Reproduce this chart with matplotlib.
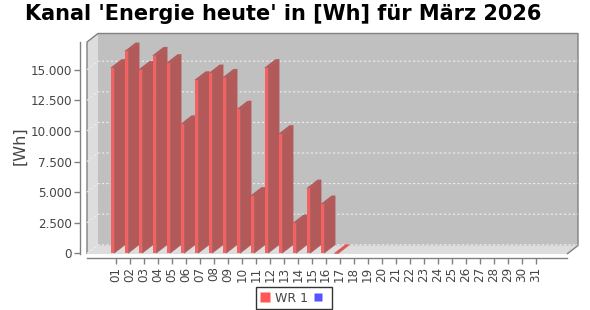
import matplotlib
matplotlib.use("Agg")
import matplotlib.pyplot as plt
from matplotlib.patches import Polygon
from matplotlib.lines import Line2D

# Daily energy yield of WR 1 in March 2026 (Wh); days 18-31 have no data yet
days = list(range(1, 32))
day_labels = ["%02d" % d for d in days]
wr1_days = list(range(1, 18))
wr1_values = [15150, 16500, 15000, 16150, 15550, 10550, 14150, 14700, 14350,
              11750, 4700, 15150, 9750, 2450, 5300, 4000, 0]
y_ticks = [0, 2500, 5000, 7500, 10000, 12500, 15000]
y_tick_labels = ["0", "2.500", "5.000", "7.500", "10.000", "12.500", "15.000"]

title = "Kanal 'Energie heute' in [Wh] für März 2026"

# colours
back_wall = "#C0C0C0"
side_wall = "#DDDDDD"
outline = "#808080"
grid_col = "#EEEEEE"
bar_front = "#F26262"
bar_side = "#B25A5A"
text_col = "#444444"

W, H = 590, 310
fig = plt.figure(figsize=(W / 100, H / 100), dpi=100)
fig.patch.set_facecolor("white")

# front plane of the 3D plot (pixels from top-left)
left, right, top, bottom = 87, 567, 42, 254
ax = fig.add_axes([left / W, (H - bottom) / H, (right - left) / W, (bottom - top) / H])
ax.set_facecolor("none")

xmin, xmax = -1.05, 33.24
ymin, ymax = -57, 17263
ax.set_xlim(xmin, xmax)
ax.set_ylim(ymin, ymax)

# 3D depth offset, converted from pixels to data units
depth_px_x, depth_px_y = 11, 8.5
dx = depth_px_x * (xmax - xmin) / (right - left)
dy = depth_px_y * (ymax - ymin) / (bottom - top)

# walls
ax.add_patch(Polygon([(xmin + dx, ymin + dy), (xmax + dx, ymin + dy),
                      (xmax + dx, ymax + dy), (xmin + dx, ymax + dy)],
                     closed=True, facecolor=back_wall, edgecolor="none",
                     clip_on=False, zorder=0))
ax.add_patch(Polygon([(xmin, ymin), (xmin + dx, ymin + dy),
                      (xmin + dx, ymax + dy), (xmin, ymax)],
                     closed=True, facecolor=side_wall, edgecolor="none",
                     clip_on=False, zorder=0))
ax.add_patch(Polygon([(xmin, ymin), (xmax, ymin),
                      (xmax + dx, ymin + dy), (xmin + dx, ymin + dy)],
                     closed=True, facecolor=side_wall, edgecolor="none",
                     clip_on=False, zorder=0))
# outer outline
ax.plot([xmin, xmin, xmin + dx, xmax + dx, xmax + dx, xmax],
        [ymin, ymax, ymax + dy, ymax + dy, ymin + dy, ymin],
        color=outline, lw=1, clip_on=False, zorder=1, solid_capstyle="butt")

# gridlines on back and left wall
for v in y_ticks:
    ax.plot([xmin, xmin + dx, xmax + dx], [v, v + dy, v + dy],
            color=grid_col, lw=0.8, ls=(0, (2, 2)), clip_on=False, zorder=1)

# bars
bar_off, bar_w = 0.36, 0.25
for d, v in zip(wr1_days, wr1_values):
    x0 = d - bar_off
    x1 = x0 + bar_w
    ax.add_patch(Polygon([(x1, 0), (x1 + dx, dy), (x1 + dx, v + dy), (x1, v)],
                         closed=True, facecolor=bar_side, edgecolor=bar_side,
                         lw=0.3, clip_on=False, zorder=2))
    top_edge = bar_front if v == 0 else bar_side
    ax.add_patch(Polygon([(x0, v), (x1, v), (x1 + dx, v + dy), (x0 + dx, v + dy)],
                         closed=True, facecolor=bar_side, edgecolor=top_edge,
                         lw=0.8 if v == 0 else 0.3, clip_on=False, zorder=2))
    ax.add_patch(Polygon([(x0, 0), (x1, 0), (x1, v), (x0, v)],
                         closed=True, facecolor=bar_front, edgecolor="none",
                         clip_on=False, zorder=2))

# axes
for s in ["top", "right"]:
    ax.spines[s].set_visible(False)
ax.spines["left"].set_position(("outward", 5))
ax.spines["bottom"].set_position(("outward", 3))
for s in ["left", "bottom"]:
    ax.spines[s].set_color(outline)
    ax.spines[s].set_linewidth(1)

ax.set_xticks(days)
ax.set_xticklabels(day_labels, rotation=90, fontsize=8.6, color=text_col)
ax.set_yticks(y_ticks)
ax.set_yticklabels(y_tick_labels, fontsize=8.6, color=text_col)
ax.tick_params(axis="both", colors=outline, labelcolor=text_col, length=4,
               width=1, pad=2)

ax.set_ylabel("[Wh]", fontsize=11.5, color=text_col)
ax.yaxis.set_label_coords((27 - left) / (right - left), 0.51)

fig.text(283 / W, 1 - 14 / H, title, ha="center", va="center",
         fontsize=15, fontweight="bold", color="black")

# legend
handles = [Line2D([], [], marker="s", ls="none", markersize=7,
                  markerfacecolor="#FF5555", markeredgecolor="none"),
           Line2D([], [], marker="s", ls="none", markersize=6,
                  markerfacecolor="#5555FF", markeredgecolor="none")]
leg = fig.legend(handles, ["WR 1", ""], ncol=2, loc="center",
                 bbox_to_anchor=(294 / W, 1 - 298 / H), fontsize=9,
                 frameon=True, fancybox=False, handlelength=0.8,
                 handletextpad=0.4, columnspacing=0.4, borderpad=0.35,
                 labelcolor=text_col)
leg.get_frame().set_edgecolor("black")
leg.get_frame().set_linewidth(1)

fig.savefig("out.png", dpi=100)
